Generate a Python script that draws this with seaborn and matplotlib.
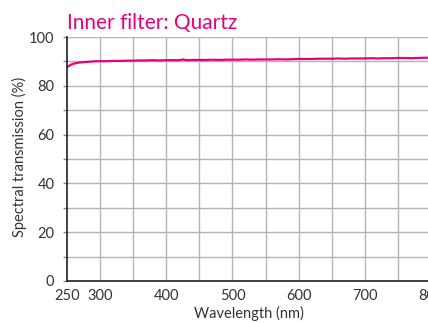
import matplotlib
matplotlib.use("Agg")
import matplotlib.pyplot as plt
from matplotlib.ticker import MultipleLocator
import seaborn as sns
import pandas as pd

wavelength = [250, 252, 255, 258, 262, 266, 270, 275, 280, 285, 290, 300, 310, 320, 330, 340, 350,
              360, 370, 380, 390, 400, 410, 420, 425, 430, 440, 450, 460, 470, 480, 490, 500,
              510, 520, 530, 540, 550, 560, 570, 580, 590, 600, 610, 620, 630, 640, 650, 660,
              670, 680, 690, 700, 710, 720, 730, 740, 750, 760, 770, 780, 790, 800]
transmission = [87.6, 88.0, 88.5, 88.9, 89.2, 89.4, 89.6, 89.7, 89.8, 89.9, 90.0, 90.1, 90.1, 90.2, 90.2, 90.3, 90.3,
                90.4, 90.4, 90.5, 90.4, 90.5, 90.5, 90.5, 90.8, 90.5, 90.6, 90.6, 90.6, 90.7, 90.6, 90.7, 90.7,
                90.7, 90.8, 90.7, 90.8, 90.8, 90.8, 90.9, 90.8, 90.9, 91.0, 91.0, 91.0, 91.1, 91.1, 91.1, 91.2,
                91.1, 91.2, 91.2, 91.2, 91.3, 91.2, 91.3, 91.3, 91.4, 91.4, 91.3, 91.4, 91.5, 91.5]
xticks = [250, 300, 400, 500, 600, 700, 800]
yticks = [0, 20, 40, 60, 80, 100]

df = pd.DataFrame({"Wavelength": wavelength, "Transmission": transmission})

sns.set_theme(style="white")
plt.rcParams['font.family'] = ['Lato', 'DejaVu Sans']

fig = plt.figure(figsize=(4.28, 3.23), dpi=100)
ax = fig.add_axes([67/428, 1-281/323, 364/428, 244/323])

pink = "#E6007E"
sns.lineplot(data=df, x="Wavelength", y="Transmission", ax=ax, color=pink, linewidth=1.6)

ax.set_xlim(250, 800)
ax.set_ylim(0, 100)
for x in range(300, 801, 50):
    ax.axvline(x, color="#b4b4b4", linewidth=1.0, zorder=0)
for y in range(10, 101, 10):
    ax.axhline(y, color="#b4b4b4", linewidth=1.0, zorder=0)

ax.set_xticks(xticks)
ax.set_yticks(yticks)
ax.yaxis.set_minor_locator(MultipleLocator(10))
ax.tick_params(axis="x", length=0, pad=6, labelsize=10.5, labelcolor="#333333")
ax.tick_params(axis="y", which="both", length=3, width=1, color="#888888", left=True)
ax.tick_params(axis="y", which="major", pad=6, labelsize=10.5, labelcolor="#333333")
for s in ["top", "right"]:
    ax.spines[s].set_visible(False)
for s in ["left", "bottom"]:
    ax.spines[s].set_color("#222222")
    ax.spines[s].set_linewidth(1.2)

ax.set_xlabel("Wavelength (nm)", fontsize=10.5, color="#333333", labelpad=2)
ax.set_ylabel("Spectral transmission (%)", fontsize=10.5, color="#333333", va="center")
ax.yaxis.set_label_coords((19-67)/364, (281-157)/244)
fig.text(67/428, 1-29/323, "Inner filter: Quartz", color=pink, fontsize=15, ha="left", va="baseline")

fig.savefig("out.png", dpi=100)
